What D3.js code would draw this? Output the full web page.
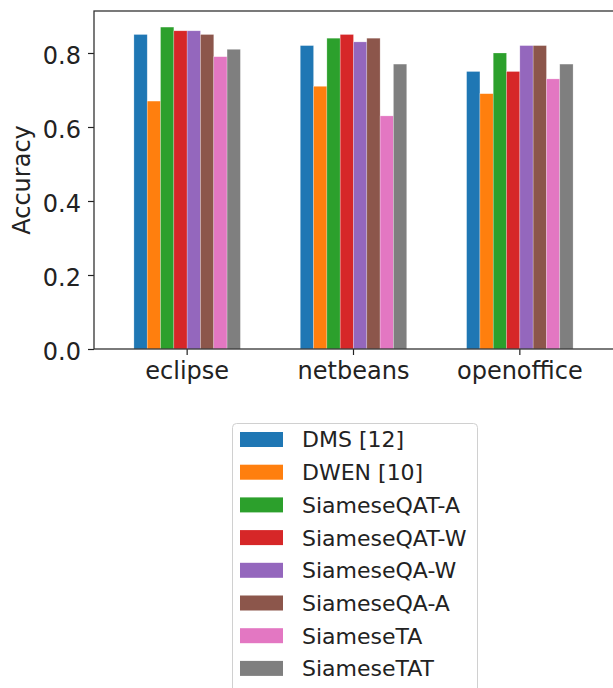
<!DOCTYPE html>
<html>
<head>
<meta charset="utf-8">
<script src="https://cdn.jsdelivr.net/npm/d3@7"></script>
<style>
body { margin: 0; background: #fff; }
svg { display: block; font-family: "DejaVu Sans", sans-serif; }
</style>
</head>
<body>
<script>
"use strict";
const categories = ["eclipse", "netbeans", "openoffice"];
const seriesNames = ["DMS [12]", "DWEN [10]", "SiameseQAT-A", "SiameseQAT-W", "SiameseQA-W", "SiameseQA-A", "SiameseTA", "SiameseTAT"];
const colors = ["#1f77b4", "#ff7f0e", "#2ca02c", "#d62728", "#9467bd", "#8c564b", "#e377c2", "#7f7f7f"];
// one array per series, values for eclipse, netbeans, openoffice
const dms = [0.85, 0.82, 0.75];
const dwen = [0.67, 0.71, 0.69];
const qatA = [0.87, 0.84, 0.80];
const qatW = [0.86, 0.85, 0.75];
const qaW = [0.86, 0.83, 0.82];
const qaA = [0.85, 0.84, 0.82];
const ta = [0.79, 0.63, 0.73];
const tat = [0.81, 0.77, 0.77];
const yTicks = [0.0, 0.2, 0.4, 0.6, 0.8];
const yLabel = "Accuracy";

const seriesValues = [dms, dwen, qatA, qatW, qaW, qaA, ta, tat];
const size = {"width": 613, "height": 688};
const plot = {"left": 94, "top": 11, "right": 613, "bottom": 349};
const tickFont = 24;
const legendFont = 22;

const svg = d3.select("body")
	.append("svg")
	.attr("width", size.width)
	.attr("height", size.height);

const x0 = d3.scaleBand()
	.domain(categories)
	.range([plot.left, plot.right])
	.paddingInner(0.36)
	.paddingOuter(0.24);
const x1 = d3.scaleBand()
	.domain(seriesNames)
	.range([0, x0.bandwidth()]);
const yMax = d3.max(seriesValues.flat()) * 1.05;
const y = d3.scaleLinear()
	.domain([0, yMax])
	.range([plot.bottom, plot.top]);

// bars
const rows = [];
seriesNames.forEach((name, s) => {
	categories.forEach((cat, c) => {
		rows.push({"name": name, "cat": cat, "value": seriesValues[s][c], "color": colors[s]});
	});
});
svg.append("g")
	.selectAll("rect")
	.data(rows)
	.enter()
	.append("rect")
	.attr("x", (d) => x0(d.cat) + x1(d.name))
	.attr("y", (d) => y(d.value))
	.attr("width", x1.bandwidth())
	.attr("height", (d) => y(0) - y(d.value))
	.attr("fill", (d) => d.color)
	.attr("stroke", "#fff")
	.attr("stroke-opacity", 0.4)
	.attr("stroke-width", 0.6);

// axes
const yAxis = d3.axisLeft(y)
	.tickValues(yTicks)
	.tickFormat(d3.format(".1f"))
	.tickSize(6)
	.tickPadding(7);
const gy = svg.append("g")
	.attr("transform", "translate(" + plot.left + ",0)")
	.call(yAxis);
const xAxis = d3.axisBottom(x0)
	.tickSize(6)
	.tickPadding(7);
const gx = svg.append("g")
	.attr("transform", "translate(0," + plot.bottom + ")")
	.call(xAxis);
[gx, gy].forEach((g) => {
	g.select(".domain").remove();
	g.selectAll(".tick line").attr("stroke", "#222").attr("stroke-width", 1.2);
	g.selectAll(".tick text")
		.attr("fill", "#222")
		.style("font-size", tickFont + "px")
		.style("font-family", "'DejaVu Sans', sans-serif");
});
gy.selectAll(".tick text").attr("dy", "0.44em");

// spines
svg.append("rect")
	.attr("x", plot.left)
	.attr("y", plot.top)
	.attr("width", plot.right - plot.left + 1)
	.attr("height", plot.bottom - plot.top)
	.attr("fill", "none")
	.attr("stroke", "#333")
	.attr("stroke-width", 1.3);

svg.append("text")
	.attr("transform", "translate(30," + ((plot.top + plot.bottom) / 2) + ") rotate(-90)")
	.attr("text-anchor", "middle")
	.attr("fill", "#222")
	.style("font-size", tickFont + "px")
	.text(yLabel);

// legend
const legend = {"left": 232, "top": 423, "width": 245, "row": 32.7};
svg.append("rect")
	.attr("x", legend.left + 0.5)
	.attr("y", legend.top + 0.5)
	.attr("width", legend.width)
	.attr("height", 290)
	.attr("rx", 4)
	.attr("fill", "#fff")
	.attr("stroke", "#d0d0d0")
	.attr("stroke-width", 1);
const item = svg.append("g")
	.selectAll("g")
	.data(seriesNames)
	.enter()
	.append("g")
	.attr("transform", (d, i) => "translate(" + (legend.left + 8) + "," + (legend.top + 16.5 + i * legend.row) + ")");
item.append("rect")
	.attr("x", 0)
	.attr("y", -7.5)
	.attr("width", 43)
	.attr("height", 15)
	.attr("fill", (d, i) => colors[i]);
item.append("text")
	.attr("x", 62)
	.attr("y", 0)
	.attr("dy", "0.36em")
	.attr("fill", "#222")
	.style("font-size", legendFont + "px")
	.text((d) => d);
</script>
</body>
</html>
